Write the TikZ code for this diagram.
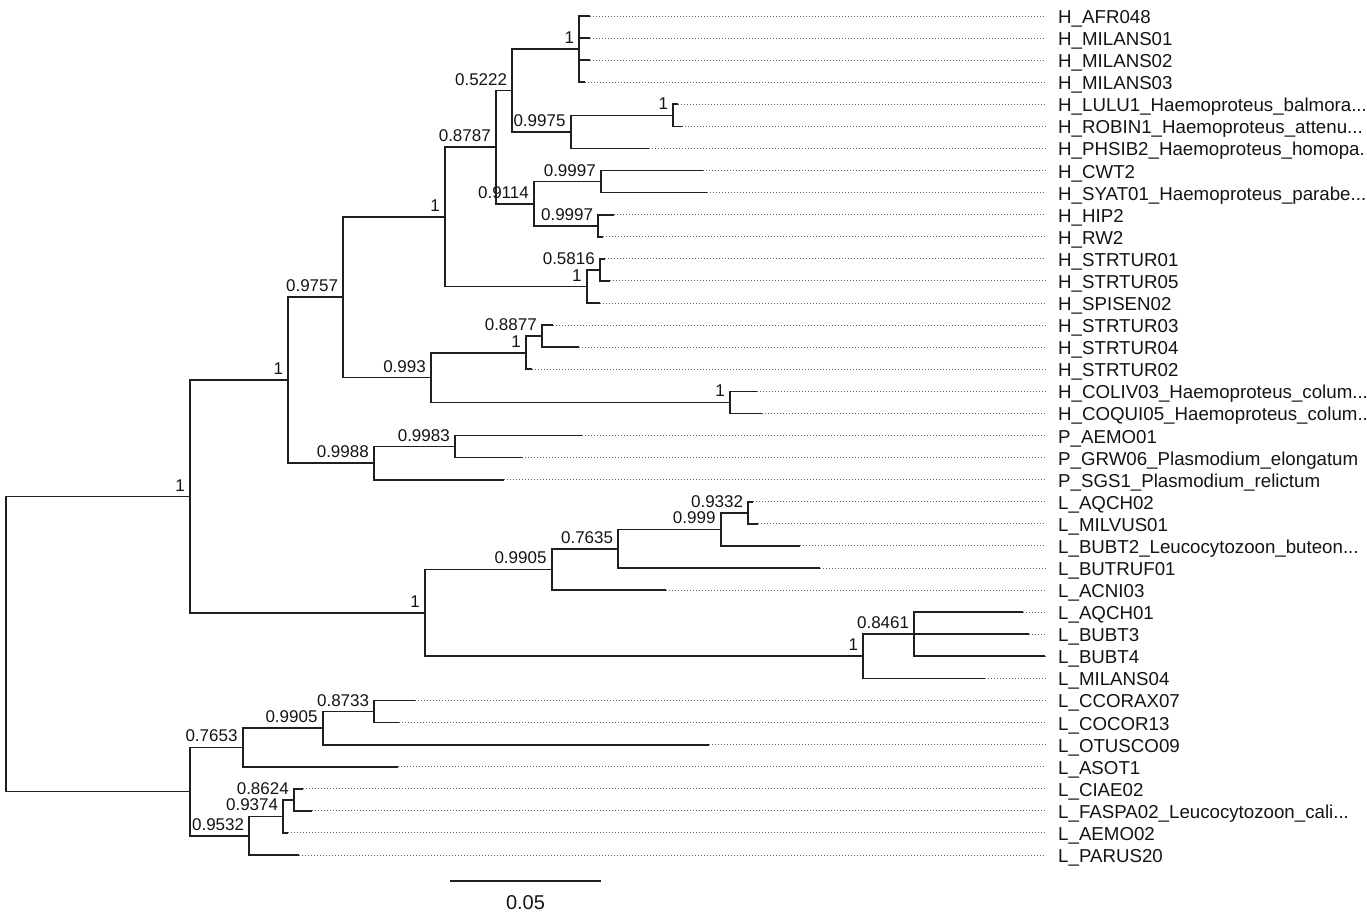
\documentclass[tikz,border=0pt]{standalone}
\usepackage{fontspec}
\setmainfont{Liberation Sans}
\tikzset{
  branch/.style={line width=1.7pt, draw=black!88},
  guide/.style={draw=black!62, line width=1pt, dash pattern=on 1pt off 2pt, shorten >=12pt},
  taxon/.style={anchor=base west, inner sep=0pt, text=black!92, font=\fontsize{18.7}{22}\selectfont},
  bs/.style={anchor=base east, inner sep=0pt, text=black!92, font=\fontsize{17}{20}\selectfont},
  scalelbl/.style={inner sep=0pt, text=black!92, font=\fontsize{20}{24}\selectfont}
}
\newcommand\tipleaf[4]{%
  \coordinate (t#1) at (#2,#3);
  \node[taxon] (n#1) at (1058,#3+7.5) {#4};
  \draw[guide] (t#1) -- (t#1 -| n#1.west);
}
\newcommand\inode[4]{%
  \coordinate (#1) at (#2,#3);
  \node[bs] (b#1) at ([shift={(-5,-5.5)}]#1) {#4};
}
\begin{document}
\begin{tikzpicture}[x=1pt,y=-1pt]
\useasboundingbox (0,0) rectangle (1367,916);
% tips
\tipleaf{1}{590}{16}{H\_AFR048}
\tipleaf{2}{590}{38.08}{H\_MILANS01}
\tipleaf{3}{590}{60.16}{H\_MILANS02}
\tipleaf{4}{585}{82.24}{H\_MILANS03}
\tipleaf{5}{678}{104.32}{H\_LULU1\_Haemoproteus\_balmora...}
\tipleaf{6}{682}{126.4}{H\_ROBIN1\_Haemoproteus\_attenu...}
\tipleaf{7}{649}{148.48}{H\_PHSIB2\_Haemoproteus\_homopa.}
\tipleaf{8}{703}{170.56}{H\_CWT2}
\tipleaf{9}{707}{192.64}{H\_SYAT01\_Haemoproteus\_parabe...}
\tipleaf{10}{614}{214.72}{H\_HIP2}
\tipleaf{11}{603}{236.8}{H\_RW2}
\tipleaf{12}{605}{258.88}{H\_STRTUR01}
\tipleaf{13}{610}{280.96}{H\_STRTUR05}
\tipleaf{14}{600}{303.04}{H\_SPISEN02}
\tipleaf{15}{553}{325.12}{H\_STRTUR03}
\tipleaf{16}{579}{347.2}{H\_STRTUR04}
\tipleaf{17}{532}{369.28}{H\_STRTUR02}
\tipleaf{18}{757}{391.36}{H\_COLIV03\_Haemoproteus\_colum...}
\tipleaf{19}{762}{413.44}{H\_COQUI05\_Haemoproteus\_colum..}
\tipleaf{20}{582}{435.52}{P\_AEMO01}
\tipleaf{21}{522}{457.6}{P\_GRW06\_Plasmodium\_elongatum}
\tipleaf{22}{504}{479.68}{P\_SGS1\_Plasmodium\_relictum}
\tipleaf{23}{753}{501.76}{L\_AQCH02}
\tipleaf{24}{758}{523.84}{L\_MILVUS01}
\tipleaf{25}{800}{545.92}{L\_BUBT2\_Leucocytozoon\_buteon...}
\tipleaf{26}{820}{568}{L\_BUTRUF01}
\tipleaf{27}{666}{590.08}{L\_ACNI03}
\tipleaf{28}{1023}{612.16}{L\_AQCH01}
\tipleaf{29}{1029}{634.24}{L\_BUBT3}
\tipleaf{30}{1045}{656.32}{L\_BUBT4}
\tipleaf{31}{985}{678.4}{L\_MILANS04}
\tipleaf{32}{415}{700.48}{L\_CCORAX07}
\tipleaf{33}{399}{722.56}{L\_COCOR13}
\tipleaf{34}{709}{744.64}{L\_OTUSCO09}
\tipleaf{35}{398}{766.72}{L\_ASOT1}
\tipleaf{36}{303}{788.8}{L\_CIAE02}
\tipleaf{37}{312}{810.88}{L\_FASPA02\_Leucocytozoon\_cali...}
\tipleaf{38}{288}{832.96}{L\_AEMO02}
\tipleaf{39}{299}{855.04}{L\_PARUS20}
% internal nodes
\coordinate (root) at (6,644);
\inode{A}{190}{496.5}{1}
\coordinate (B) at (190,791.6);
\inode{C}{288.3}{380.2}{1}
\inode{D}{425}{612.9}{1}
\inode{E}{343.3}{297.2}{0.9757}
\inode{F}{374}{463.1}{0.9988}
\inode{G}{445}{216.8}{1}
\inode{H}{431}{377.6}{0.993}
\inode{I}{496}{147.1}{0.8787}
\inode{J}{586.7}{286.5}{1}
\inode{K}{512.3}{90.5}{0.5222}
\inode{M}{534}{203.7}{0.9114}
\inode{N}{579.3}{49.1}{1}
\inode{O}{570.7}{131.9}{0.9975}
\inode{P}{673.3}{115.4}{1}
\inode{Q}{601}{181.6}{0.9997}
\inode{R}{598.3}{225.8}{0.9997}
\inode{S}{600}{269.9}{0.5816}
\inode{T}{526}{352.7}{1}
\inode{U}{730}{402.4}{1}
\inode{V}{542}{336.2}{0.8877}
\inode{W}{455}{446.6}{0.9983}
\inode{X}{551.7}{569.4}{0.9905}
\inode{Y}{863.3}{656.3}{1}
\inode{Z}{618.3}{548.7}{0.7635}
\inode{AA}{720.7}{529.4}{0.999}
\inode{AB}{748.3}{512.8}{0.9332}
\inode{AC}{914.3}{634.2}{0.8461}
\inode{AD}{242.7}{747.4}{0.7653}
\inode{AE}{249.3}{835.7}{0.9532}
\inode{AF}{322.7}{728.1}{0.9905}
\inode{AG}{374.3}{711.5}{0.8733}
\inode{AH}{283.3}{816.4}{0.9374}
\inode{AI}{294}{799.8}{0.8624}
% branches
\draw[branch] (root) |- (A);
\draw[branch] (root) |- (B);
\draw[branch] (A) |- (C);
\draw[branch] (A) |- (D);
\draw[branch] (C) |- (E);
\draw[branch] (C) |- (F);
\draw[branch] (E) |- (G);
\draw[branch] (E) |- (H);
\draw[branch] (G) |- (I);
\draw[branch] (G) |- (J);
\draw[branch] (I) |- (K);
\draw[branch] (I) |- (M);
\draw[branch] (K) |- (N);
\draw[branch] (K) |- (O);
\foreach \k in {1,2,3,4} {\draw[branch] (N) |- (t\k);}
\draw[branch] (O) |- (P);
\draw[branch] (O) |- (t7);
\draw[branch] (P) |- (t5);
\draw[branch] (P) |- (t6);
\draw[branch] (M) |- (Q);
\draw[branch] (M) |- (R);
\draw[branch] (Q) |- (t8);
\draw[branch] (Q) |- (t9);
\draw[branch] (R) |- (t10);
\draw[branch] (R) |- (t11);
\draw[branch] (J) |- (S);
\draw[branch] (J) |- (t14);
\draw[branch] (S) |- (t12);
\draw[branch] (S) |- (t13);
\draw[branch] (H) |- (T);
\draw[branch] (H) |- (U);
\draw[branch] (T) |- (V);
\draw[branch] (T) |- (t17);
\draw[branch] (V) |- (t15);
\draw[branch] (V) |- (t16);
\draw[branch] (U) |- (t18);
\draw[branch] (U) |- (t19);
\draw[branch] (F) |- (W);
\draw[branch] (F) |- (t22);
\draw[branch] (W) |- (t20);
\draw[branch] (W) |- (t21);
\draw[branch] (D) |- (X);
\draw[branch] (D) |- (Y);
\draw[branch] (X) |- (Z);
\draw[branch] (X) |- (t27);
\draw[branch] (Z) |- (AA);
\draw[branch] (Z) |- (t26);
\draw[branch] (AA) |- (AB);
\draw[branch] (AA) |- (t25);
\draw[branch] (AB) |- (t23);
\draw[branch] (AB) |- (t24);
\draw[branch] (Y) |- (AC);
\draw[branch] (Y) |- (t31);
\draw[branch] (AC) |- (t28);
\draw[branch] (AC) |- (t29);
\draw[branch] (AC) |- (t30);
\draw[branch] (B) |- (AD);
\draw[branch] (B) |- (AE);
\draw[branch] (AD) |- (AF);
\draw[branch] (AD) |- (t35);
\draw[branch] (AF) |- (AG);
\draw[branch] (AF) |- (t34);
\draw[branch] (AG) |- (t32);
\draw[branch] (AG) |- (t33);
\draw[branch] (AE) |- (AH);
\draw[branch] (AE) |- (t39);
\draw[branch] (AH) |- (AI);
\draw[branch] (AH) |- (t38);
\draw[branch] (AI) |- (t36);
\draw[branch] (AI) |- (t37);
% scale bar
\coordinate (sb1) at (450,881);
\coordinate (sb2) at (601,881);
\draw[branch] (sb1) -- (sb2);
\node[scalelbl] (sbl) at (525.5,903) {0.05};
\end{tikzpicture}
\end{document}
